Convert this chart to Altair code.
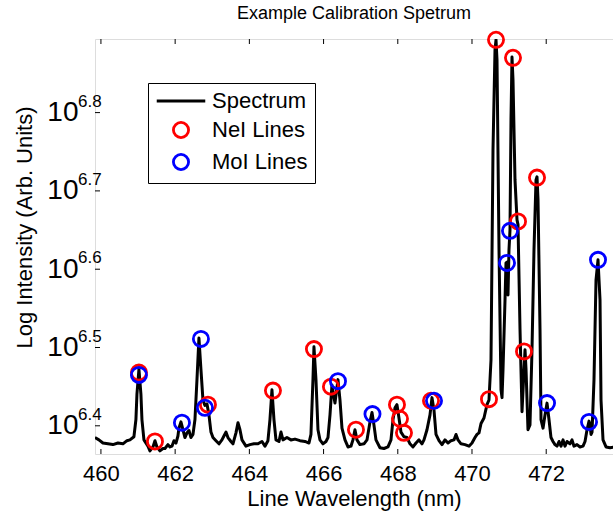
import altair as alt
import pandas as pd

# ---------------- data ----------------
wavelength = [
    459.838, 459.946, 460.054, 460.189, 460.323, 460.458, 460.593, 460.701, 460.782, 460.889,
    460.943, 460.970, 461.024, 461.078, 461.105, 461.159, 461.267, 461.321, 461.402, 461.456,
    461.509, 461.590, 461.671, 461.725, 461.806, 461.860, 461.914, 461.968, 462.022, 462.075,
    462.102, 462.156, 462.210, 462.264, 462.318, 462.372, 462.426, 462.480, 462.534, 462.588,
    462.641, 462.695, 462.749, 462.803, 462.857, 462.911, 462.965, 463.019, 463.100, 463.181,
    463.261, 463.315, 463.369, 463.423, 463.504, 463.558, 463.639, 463.693, 463.747, 463.801,
    463.908, 464.016, 464.124, 464.232, 464.340, 464.420, 464.501, 464.555, 464.609, 464.663,
    464.717, 464.798, 464.852, 464.906, 465.013, 465.121, 465.229, 465.364, 465.499, 465.606,
    465.660, 465.714, 465.741, 465.795, 465.849, 465.903, 465.984, 466.065, 466.119, 466.173,
    466.226, 466.307, 466.388, 466.442, 466.496, 466.577, 466.658, 466.738, 466.792, 466.846,
    466.900, 466.981, 467.089, 467.170, 467.251, 467.305, 467.358, 467.412, 467.520, 467.628,
    467.736, 467.817, 467.871, 467.925, 467.978, 468.032, 468.086, 468.167, 468.248, 468.329,
    468.410, 468.491, 468.571, 468.652, 468.706, 468.787, 468.868, 468.922, 468.976, 469.030,
    469.111, 469.191, 469.272, 469.353, 469.434, 469.515, 469.569, 469.623, 469.703, 469.811,
    469.919, 470.000, 470.081, 470.135, 470.189, 470.243, 470.323, 470.404, 470.458, 470.512,
    470.566, 470.620, 470.647, 470.674, 470.728, 470.782, 470.809, 470.836, 470.890, 470.916,
    470.943, 470.970, 470.997, 471.024, 471.051, 471.078, 471.105, 471.159, 471.213, 471.240,
    471.294, 471.348, 471.402, 471.429, 471.456, 471.509, 471.563, 471.617, 471.671, 471.725,
    471.752, 471.779, 471.833, 471.860, 471.914, 471.968, 472.022, 472.075, 472.129, 472.183,
    472.237, 472.291, 472.345, 472.399, 472.453, 472.507, 472.561, 472.641, 472.695, 472.749,
    472.830, 472.911, 472.992, 473.046, 473.100, 473.154, 473.181, 473.208, 473.235, 473.288,
    473.342, 473.396, 473.450, 473.477, 473.531, 473.612, 473.720, 473.828,
]
log_intensity = [
    6.385, 6.382, 6.378, 6.377, 6.376, 6.378, 6.377, 6.381, 6.382, 6.386,
    6.408, 6.440, 6.472, 6.440, 6.408, 6.382, 6.374, 6.368, 6.373, 6.381,
    6.373, 6.368, 6.371, 6.371, 6.376, 6.373, 6.374, 6.381, 6.378, 6.387,
    6.397, 6.405, 6.395, 6.385, 6.391, 6.394, 6.385, 6.389, 6.408, 6.459,
    6.512, 6.472, 6.433, 6.426, 6.428, 6.414, 6.392, 6.385, 6.381, 6.377,
    6.382, 6.387, 6.392, 6.385, 6.380, 6.377, 6.391, 6.404, 6.395, 6.382,
    6.374, 6.376, 6.377, 6.377, 6.380, 6.374, 6.381, 6.408, 6.446, 6.408,
    6.382, 6.380, 6.392, 6.382, 6.385, 6.382, 6.383, 6.381, 6.380, 6.378,
    6.389, 6.459, 6.501, 6.459, 6.395, 6.382, 6.377, 6.380, 6.385, 6.414,
    6.452, 6.429, 6.459, 6.433, 6.397, 6.382, 6.373, 6.374, 6.382, 6.395,
    6.382, 6.376, 6.377, 6.382, 6.405, 6.417, 6.401, 6.382, 6.372, 6.371,
    6.373, 6.382, 6.408, 6.423, 6.427, 6.410, 6.392, 6.386, 6.385, 6.377,
    6.373, 6.378, 6.382, 6.377, 6.382, 6.395, 6.414, 6.436, 6.420, 6.389,
    6.381, 6.376, 6.382, 6.378, 6.381, 6.382, 6.389, 6.382, 6.377, 6.376,
    6.374, 6.378, 6.385, 6.389, 6.391, 6.403, 6.410, 6.427, 6.433, 6.484,
    6.752, 6.880, 6.893, 6.867, 6.625, 6.446, 6.436, 6.472, 6.561, 6.608,
    6.609, 6.567, 6.625, 6.650, 6.791, 6.871, 6.842, 6.714, 6.663, 6.657,
    6.523, 6.418, 6.472, 6.497, 6.472, 6.395, 6.401, 6.497, 6.625, 6.714,
    6.718, 6.689, 6.523, 6.408, 6.397, 6.414, 6.429, 6.408, 6.385, 6.380,
    6.376, 6.374, 6.380, 6.374, 6.382, 6.374, 6.380, 6.377, 6.382, 6.374,
    6.376, 6.373, 6.374, 6.380, 6.395, 6.406, 6.401, 6.389, 6.392, 6.459,
    6.586, 6.612, 6.561, 6.433, 6.382, 6.373, 6.372, 6.373,
]

nei_wl = [461.024, 461.456, 462.884, 464.636, 465.741, 466.199, 466.873, 467.978, 468.059,
          468.167, 468.895, 470.458, 470.647, 471.105, 471.240, 471.402, 471.752]
nei_li = [6.468, 6.380, 6.427, 6.445, 6.498, 6.450, 6.395, 6.427, 6.409,
          6.391, 6.432, 6.434, 6.893, 6.870, 6.661, 6.495, 6.717]

moi_wl = [461.024, 462.183, 462.695, 462.803, 466.388, 467.318, 468.976, 470.943, 471.024,
          472.022, 473.154, 473.396]
moi_li = [6.465, 6.404, 6.511, 6.423, 6.457, 6.415, 6.432, 6.608, 6.649,
          6.429, 6.405, 6.612]

x_ticks = [460, 462, 464, 466, 468, 470, 472]
y_ticks = [6.4, 6.5, 6.6, 6.7, 6.8]
y_exponents = ["6.4", "6.5", "6.6", "6.7", "6.8"]

series_names = ["Spectrum", "NeI Lines", "MoI Lines"]

# ---------------- chart ----------------
FONT = "Liberation Sans"
W, H = 518, 415
MARK_SIZE = 230
xs = alt.Scale(domain=[459.84, 473.80], nice=False, zero=False)
ys = alt.Scale(domain=[6.364, 6.894], nice=False, zero=False)

color_scale = alt.Scale(domain=series_names, range=["#000000", "#ff0000", "#0000ff"])
shape_scale = alt.Scale(domain=series_names, range=["M-3.2,0L3.2,0", "circle", "circle"])

spec_df = pd.DataFrame({"wl": wavelength, "li": log_intensity, "series": "Spectrum"})
mk_df = pd.concat([
    pd.DataFrame({"wl": nei_wl, "li": nei_li, "series": "NeI Lines"}),
    pd.DataFrame({"wl": moi_wl, "li": moi_li, "series": "MoI Lines"}),
], ignore_index=True)
xt_df = pd.DataFrame({"wl": x_ticks})
yt_df = pd.DataFrame({"li": y_ticks, "exp": y_exponents})

legend = alt.Legend(
    title=None, orient="none", legendX=53, legendY=44,
    labelFont=FONT, labelFontSize=22, labelColor="black",
    symbolSize=MARK_SIZE, symbolStrokeWidth=2.8, symbolFillColor="transparent",
    strokeColor="black", fillColor="white", padding=7, rowPadding=4,
    symbolOffset=15, labelOffset=20,
)

x_axis = alt.Axis(
    values=x_ticks, format="d", grid=False, tickSize=0, domain=False,
    labelFont=FONT, labelFontSize=22, labelColor="black", labelPadding=9, labelFlush=False,
    title="Line Wavelength (nm)", titleFont=FONT, titleFontSize=22, titleFontWeight="normal",
    titleColor="black", titleX=259, titleY=51, titleBaseline="alphabetic", titleAlign="center",
)
y_axis = alt.Axis(
    values=y_ticks, labelExpr="'10'", grid=False, tickSize=0, domain=False,
    labelFont=FONT, labelFontSize=28, labelColor="black", labelPadding=17,
    title="Log Intensity (Arb. Units)", titleFont=FONT, titleFontSize=22, titleFontWeight="normal",
    titleColor="black", titleX=-71, titleY=188, titleBaseline="middle", titleAlign="center",
)

line = alt.Chart(spec_df).mark_line(strokeWidth=3, clip=True, strokeJoin="round").encode(
    x=alt.X("wl:Q", scale=xs, axis=x_axis),
    y=alt.Y("li:Q", scale=ys, axis=y_axis),
    color=alt.Color("series:N", scale=color_scale, legend=legend),
)

points = alt.Chart(mk_df).mark_point(filled=False, size=MARK_SIZE, strokeWidth=2.8, opacity=1).encode(
    x=alt.X("wl:Q", scale=xs),
    y=alt.Y("li:Q", scale=ys),
    color=alt.Color("series:N", scale=color_scale, legend=legend),
    shape=alt.Shape("series:N", scale=shape_scale, legend=legend),
)

bottom_ticks = alt.Chart(xt_df).mark_rule(color="black", strokeWidth=1).encode(
    x=alt.X("wl:Q", scale=xs), y=alt.value(H), y2=alt.value(H - 5))
top_ticks = alt.Chart(xt_df).mark_rule(color="black", strokeWidth=1).encode(
    x=alt.X("wl:Q", scale=xs), y=alt.value(0), y2=alt.value(5))
left_ticks = alt.Chart(yt_df).mark_rule(color="black", strokeWidth=1).encode(
    y=alt.Y("li:Q", scale=ys), x=alt.value(0), x2=alt.value(5))

exponents = alt.Chart(yt_df).mark_text(
    font=FONT, fontSize=17, align="left", baseline="middle", dy=-11, color="black"
).encode(
    y=alt.Y("li:Q", scale=ys), x=alt.value(-17), text="exp:N")

chart = alt.layer(line, points, bottom_ticks, top_ticks, left_ticks, exponents).properties(
    width=W, height=H,
    title=alt.TitleParams("Example Calibration Spetrum", font=FONT, fontSize=18,
                          fontWeight="normal", anchor="middle", offset=4, color="black"),
    autosize=alt.AutoSizeParams(type="none"),
    padding={"left": 95, "top": 39, "right": 0, "bottom": 58},
).configure_view(stroke="black", strokeWidth=1).configure(background="white")

chart.save("out.html", embed_options={"renderer": "svg", "actions": False})
